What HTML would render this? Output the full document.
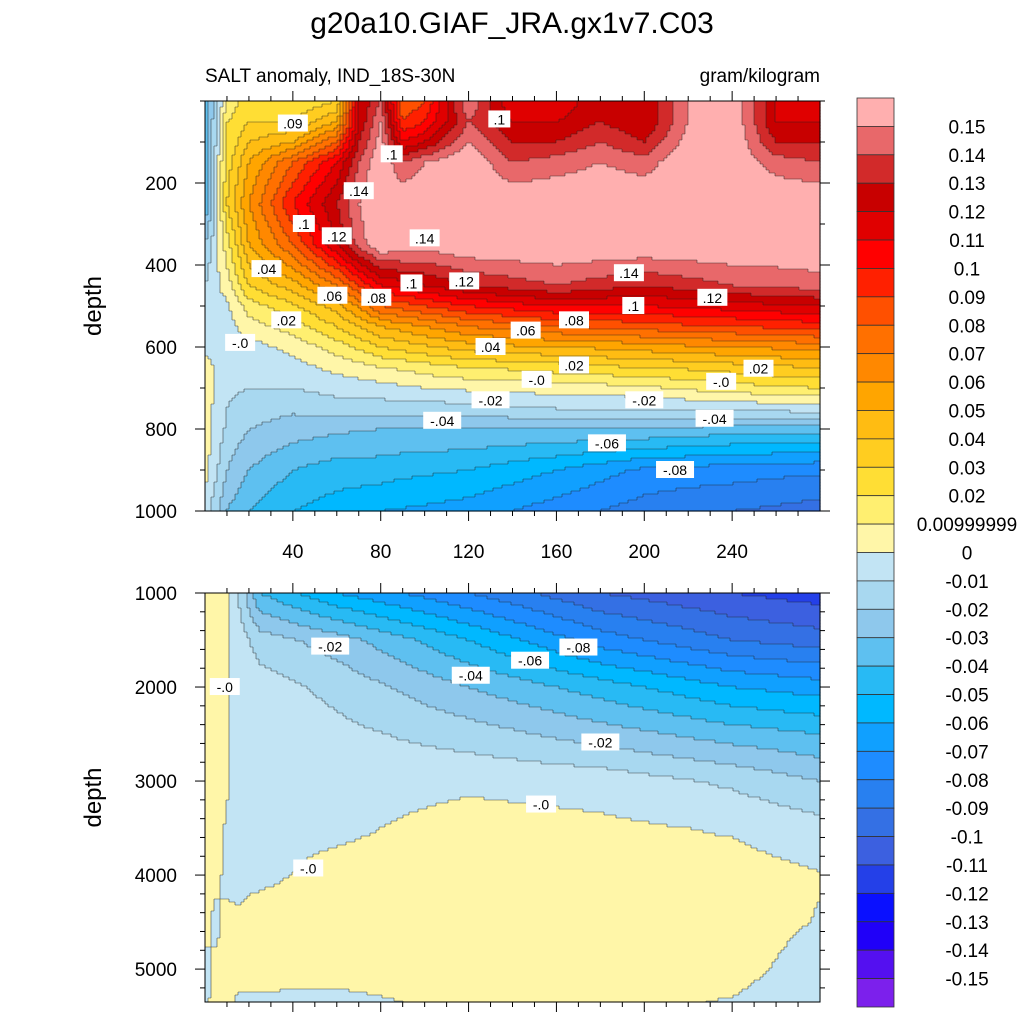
<!DOCTYPE html>
<html><head><meta charset="utf-8"><style>
html,body{margin:0;padding:0;background:#fff;}
svg{display:block;font-family:"Liberation Sans",sans-serif;}
</style></head><body>
<svg id="chart" width="1024" height="1024" viewBox="0 0 1024 1024">
<text x="512" y="33" font-size="30" text-anchor="middle">g20a10.GIAF_JRA.gx1v7.C03</text>
<text x="205" y="82" font-size="19">SALT anomaly, IND_18S-30N</text>
<text x="820" y="82" font-size="19" text-anchor="end">gram/kilogram</text>
<g id="upper"></g>
<g id="lower"></g>
<g id="cbar"></g>
</svg>
<script>
const levels = [0.15,0.14,0.13,0.12,0.11,0.1,0.09,0.08,0.07,0.06,0.05,0.04,0.03,0.02,0.01,0,-0.01,-0.02,-0.03,-0.04,-0.05,-0.06,-0.07,-0.08,-0.09,-0.1,-0.11,-0.12,-0.13,-0.14,-0.15];
const levelLabels = ["0.15","0.14","0.13","0.12","0.11","0.1","0.09","0.08","0.07","0.06","0.05","0.04","0.03","0.02","0.00999999","0","-0.01","-0.02","-0.03","-0.04","-0.05","-0.06","-0.07","-0.08","-0.09","-0.1","-0.11","-0.12","-0.13","-0.14","-0.15"];
const palette = ["#FFAFAF","#E8686A","#D22A2A","#C80000","#E00000","#FF0000","#FF2000","#FF5000","#FF7000","#FF8800","#FFA500","#FFBC12","#FFCD20","#FFDE34","#FFEF70","#FFF6A8","#C2E4F4","#A8D8F0","#8EC8EC","#5EC0F0","#28BAF4","#00B8FF","#10A0FF","#1E8CFF","#2880F0","#3470E4","#3C60E0","#2440E8","#0A10FF","#2000F8","#5410F0","#7C20EC"];

const upperX = [0,10,20,40,60,70,80,90,100,120,140,160,180,200,220,240,260,280];
const upperDepth = [0,50,100,150,250,350,450,500,550,600,650,700,750,800,900,1000];
const upperValues = [
[-0.04,-0.04,-0.04,-0.035,-0.04,-0.02,-0.01,-0.006,-0.004,-0.003,0.004,0.005,0.005,0.005,0.004,-0.004],
[0.01,0.02,0.02,0.025,0.03,0.015,0.005,-0.002,-0.004,-0.005,-0.006,-0.008,-0.01,-0.012,-0.02,-0.03],
[0.03,0.03,0.04,0.05,0.06,0.05,0.03,0.015,0.005,-0.004,-0.006,-0.01,-0.015,-0.02,-0.03,-0.04],
[0.02,0.03,0.05,0.08,0.10,0.08,0.045,0.028,0.015,0.003,-0.004,-0.01,-0.018,-0.025,-0.04,-0.05],
[0.03,0.05,0.08,0.11,0.13,0.12,0.07,0.045,0.03,0.015,0.003,-0.006,-0.015,-0.028,-0.045,-0.055],
[0.12,0.12,0.13,0.14,0.15,0.145,0.09,0.062,0.04,0.022,0.006,-0.005,-0.015,-0.029,-0.045,-0.057],
[0.14,0.15,0.155,0.16,0.16,0.16,0.11,0.08,0.05,0.03,0.01,-0.004,-0.015,-0.03,-0.045,-0.06],
[0.08,0.09,0.11,0.14,0.16,0.158,0.115,0.085,0.055,0.034,0.012,-0.002,-0.015,-0.03,-0.047,-0.061],
[0.09,0.1,0.12,0.15,0.16,0.155,0.12,0.09,0.06,0.038,0.015,0.0,-0.015,-0.03,-0.048,-0.062],
[0.15,0.14,0.15,0.16,0.16,0.16,0.13,0.10,0.07,0.045,0.02,0.002,-0.014,-0.03,-0.05,-0.065],
[0.11,0.12,0.13,0.14,0.16,0.16,0.135,0.105,0.075,0.048,0.022,0.003,-0.012,-0.03,-0.055,-0.07],
[0.11,0.12,0.13,0.145,0.16,0.16,0.14,0.11,0.08,0.05,0.025,0.005,-0.01,-0.03,-0.06,-0.075],
[0.13,0.13,0.14,0.15,0.16,0.16,0.135,0.11,0.082,0.052,0.028,0.006,-0.01,-0.03,-0.066,-0.08],
[0.12,0.12,0.13,0.145,0.16,0.16,0.13,0.11,0.085,0.055,0.03,0.008,-0.01,-0.03,-0.072,-0.085],
[0.15,0.15,0.155,0.16,0.16,0.16,0.135,0.112,0.088,0.058,0.032,0.012,-0.009,-0.032,-0.074,-0.088],
[0.16,0.16,0.16,0.16,0.16,0.16,0.14,0.115,0.09,0.06,0.035,0.015,-0.008,-0.035,-0.075,-0.09],
[0.12,0.12,0.13,0.145,0.16,0.16,0.142,0.118,0.092,0.062,0.038,0.018,-0.006,-0.035,-0.077,-0.092],
[0.11,0.12,0.13,0.14,0.16,0.16,0.145,0.12,0.095,0.065,0.04,0.02,-0.005,-0.035,-0.078,-0.095]
];
const lowerX = [0,5,10,15,25,60,120,180,240,280];
const lowerDepth = [1000,1500,2000,2500,3000,3500,4000,4500,5000,5350];
const lowerValues = [
[0.003,0.003,0.003,0.003,0.003,0.003,0.003,0.002,-0.002,-0.002],
[0.003,0.003,0.003,0.003,0.003,0.003,0.002,-0.002,0.002,0.003],
[0.002,0.001,0.001,0.001,0.001,-0.001,-0.002,0.002,0.003,0.002],
[-0.01,-0.004,-0.003,-0.003,-0.003,-0.003,-0.002,0.001,0.003,-0.001],
[-0.04,-0.015,-0.005,-0.004,-0.003,-0.002,-0.002,0.004,0.004,-0.002],
[-0.06,-0.025,-0.013,-0.007,-0.004,-0.002,0.003,0.004,0.003,-0.002],
[-0.08,-0.05,-0.03,-0.015,-0.002,0.004,0.005,0.005,0.004,0.002],
[-0.10,-0.075,-0.045,-0.025,-0.004,0.002,0.004,0.004,0.003,0.002],
[-0.11,-0.09,-0.06,-0.035,-0.012,-0.001,0.004,0.004,0.003,-0.0005],
[-0.115,-0.095,-0.065,-0.04,-0.02,-0.006,0.0005,-0.0005,-0.004,-0.006]
];
const xTicks = [40,80,120,160,200,240];
const upperYTicks = [200,400,600,800,1000];
const lowerYTicks = [1000,2000,3000,4000,5000];
const upperLabels = [[40,55,".09"],[85,130,".1"],[70,220,".14"],[100,335,".14"],[45,300,".1"],[60,330,".12"],[28,410,".04"],[58,475,".06"],[78,480,".08"],[94,445,".1"],[118,440,".12"],[37,535,".02"],[16,590,"-.0"],[134,45,".1"],[146,560,".06"],[130,600,".04"],[168,535,".08"],[168,645,".02"],[193,420,".14"],[195,500,".1"],[231,480,".12"],[252,653,".02"],[235,685,"-.0"],[151,680,"-.0"],[130,730,"-.02"],[200,730,"-.02"],[232,775,"-.04"],[108,780,"-.04"],[183,835,"-.06"],[214,900,"-.08"]];
const lowerLabels = [[57,1570,"-.02"],[121,1880,"-.04"],[148,1720,"-.06"],[170,1580,"-.08"],[180,2590,"-.02"],[153,3250,"-.0"],[9,2000,"-.0"],[47,3930,"-.0"]];

const NS = "http://www.w3.org/2000/svg";
function mk(tag, attrs, parent){const e=document.createElementNS(NS,tag);for(const k in attrs)e.setAttribute(k,attrs[k]);parent.appendChild(e);return e;}
function colorIndex(v){let i=Math.ceil((0.15-v)/0.01-1e-9);return Math.max(0,Math.min(31,i));}
function interp1(arr,v){let i=0;while(i<arr.length-2&&v>arr[i+1])i++;let t=(v-arr[i])/(arr[i+1]-arr[i]);t=Math.max(0,Math.min(1,t));return [i,t];}
function sample(xs,ds,vals,x,d){const [i,tx]=interp1(xs,x);const [j,ty]=interp1(ds,d);
 const a=vals[i][j],b=vals[i+1][j],c=vals[i][j+1],e=vals[i+1][j+1];
 return a*(1-tx)*(1-ty)+b*tx*(1-ty)+c*(1-tx)*ty+e*tx*ty;}

function drawPanel(g,xs,ds,vals,top,bottom,d0,d1,labels,yTicks,showXLabels,name){
 const L=205,R=820;
 const sx=x=>L+(x-0)*(R-L)/280;
 const sy=d=>top+(d-d0)*(bottom-top)/(d1-d0);
 const step=3;
 const cells=mk("g",{},g);
 
 
 const grid=[];
 for(let py=top;py<bottom;py+=step){
  const d=d0+(py+step/2-top)*(d1-d0)/(bottom-top);
  const row=[];
  for(let px=L;px<R;px+=step){const x=(px+step/2-L)*280/(R-L);row.push(colorIndex(sample(xs,ds,vals,x,d)));}
  grid.push(row);
 }
 let path="";
 grid.forEach((row,j)=>{
  const py=top+j*step;
  let runStart=0;
  for(let i=1;i<=row.length;i++){
   if(i===row.length||row[i]!==row[runStart]){
    const x0=L+runStart*step,x1=Math.min(L+i*step,R);
    const r=mk("rect",{x:x0,y:py,width:x1-x0+0.6,height:Math.min(step,bottom-py)+0.6,fill:palette[row[runStart]]},cells);
    
    
    runStart=i;
   }
  }
  for(let i=0;i<row.length;i++){
   const X=L+i*step,Y=py;
   if(i+1<row.length&&row[i+1]!==row[i]) path+=`M${X+step} ${Y}v${Math.min(step,bottom-Y)}`;
   if(j+1<grid.length&&grid[j+1][i]!==row[i]) path+=`M${X} ${Y+step}h${Math.min(step,R-X)}`;
  }
 });
 const cl=mk("path",{d:path,stroke:"#222","stroke-width":0.6,fill:"none","stroke-opacity":0.8},g);
 
 
 labels.forEach(l=>{
  const x=sx(l[0]),y=sy(l[1]);
  const w=l[2].length*8+6;
  const lg=mk("g",{},g);
  
  
  mk("rect",{x:x-w/2,y:y-9,width:w,height:17,fill:"#fff"},lg);
  const t=mk("text",{x:x,y:y+5,"font-size":14,"text-anchor":"middle"},lg);t.textContent=l[2];
 });
 const fr=mk("rect",{x:L,y:top,width:R-L,height:bottom-top,fill:"none",stroke:"#000","stroke-width":1},g);
 
 
 const ax=mk("g",{stroke:"#000","stroke-width":1},g);
 
 
 for(let x=10;x<280;x+=10){const major=x%40===0;const len=major?10:5;const X=sx(x);
  mk("line",{x1:X,y1:bottom,x2:X,y2:bottom+len},ax);mk("line",{x1:X,y1:top,x2:X,y2:top-len},ax);}
 const minorStep=(d1-d0)>2000?200:100;
 for(let d=Math.ceil(d0/minorStep)*minorStep;d<=d1;d+=minorStep){const major=yTicks.includes(d);const len=major?10:5;const Y=sy(d);
  mk("line",{x1:L,y1:Y,x2:L-len,y2:Y},ax);mk("line",{x1:R,y1:Y,x2:R+len,y2:Y},ax);}
 yTicks.forEach(d=>{const t=mk("text",{x:177,y:sy(d)+7,"font-size":19,"text-anchor":"end"},g);t.textContent=d;
  
  });
 if(showXLabels) xTicks.forEach(x=>{const t=mk("text",{x:sx(x),y:bottom+47,"font-size":19,"text-anchor":"middle"},g);t.textContent=x;
  
  });
 const yt=mk("text",{x:0,y:0,"font-size":24,"text-anchor":"middle",transform:`translate(101,${(top+bottom)/2}) rotate(-90)`},g);yt.textContent="depth";
 
 
}
drawPanel(document.getElementById("upper"),upperX,upperDepth,upperValues,101,511,0,1000,upperLabels,upperYTicks,true,"upper");
drawPanel(document.getElementById("lower"),lowerX,lowerDepth,lowerValues,593,1002,1000,5350,lowerLabels,lowerYTicks,false,"lower");

const cb=document.getElementById("cbar");
const cTop=98,cBot=1007,cL=857,cW=37,bh=(cBot-cTop)/palette.length;
palette.forEach((c,i)=>{const r=mk("rect",{x:cL,y:cTop+i*bh,width:cW,height:bh,fill:c,stroke:"#333","stroke-width":0.8},cb);
 
 });
levelLabels.forEach((s,i)=>{const t=mk("text",{x:967,y:cTop+(i+1)*bh+7,"font-size":19,"text-anchor":"middle"},cb);t.textContent=s;
 
 });
</script>
</body></html>
